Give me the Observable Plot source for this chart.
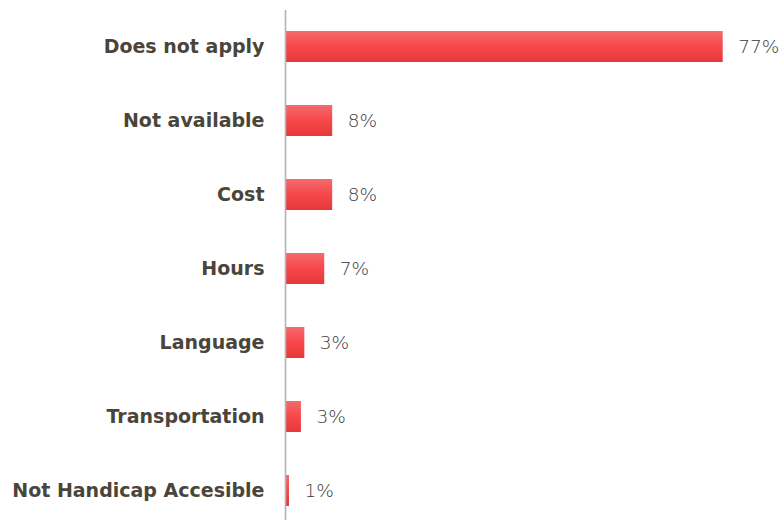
<!DOCTYPE html>
<html>
<head>
<meta charset="utf-8">
<script src="https://cdn.jsdelivr.net/npm/d3@7"></script>
<script src="https://cdn.jsdelivr.net/npm/@observablehq/plot@0.6"></script>
<style>
  html, body { margin: 0; padding: 0; background: #ffffff; }
  #chart svg { display: block; }
</style>
</head>
<body>
<div id="chart"></div>
<script>
// Data
const categories = ["Does not apply", "Not available", "Cost", "Hours", "Language", "Transportation", "Not Handicap Accesible"];
const values = [77, 8.3, 8.3, 6.9, 3.4, 2.8, 0.7];
const valueLabels = ["77%", "8%", "8%", "7%", "3%", "3%", "1%"];

const data = categories.map((c, i) => ({category: c, value: values[i], label: valueLabels[i]}));

const gradientDefs = () => {
  const defs = d3.create("svg:defs");
  const g = defs.append("linearGradient")
    .attr("id", "barGrad").attr("x1", 0).attr("x2", 0).attr("y1", 0).attr("y2", 1);
  g.append("stop").attr("offset", "0%").attr("stop-color", "#f46b6e");
  g.append("stop").attr("offset", "50%").attr("stop-color", "#f7474a");
  g.append("stop").attr("offset", "100%").attr("stop-color", "#e6383a");
  return defs.node();
};

const chart = Plot.plot({
  width: 781,
  height: 520,
  marginLeft: 285,
  marginRight: 58.3,
  marginTop: 10,
  marginBottom: 0,
  style: {fontFamily: "'DejaVu Sans', sans-serif", background: "#ffffff"},
  x: {domain: [0, 77], axis: null},
  y: {domain: categories, range: [10, 528], paddingInner: 0.58, paddingOuter: 0.29, axis: null},
  marks: [
    gradientDefs,
    Plot.barX(data, {x: "value", y: "category", fill: "url(#barGrad)"}),
    Plot.ruleX([0], {stroke: "#b3b3b3", strokeWidth: 1.6}),
    Plot.text(data, {x: 0, y: "category", text: "category", textAnchor: "end", dx: -21,
      fontSize: 19, fontWeight: "bold", fill: "#4a453b"}),
    Plot.text(data, {x: "value", y: "category", text: "label", textAnchor: "start", dx: 15,
      fontSize: 18.5, fontWeight: 200, fill: "#3a3a3a"})
  ]
});

document.getElementById("chart").appendChild(chart);
</script>
</body>
</html>
